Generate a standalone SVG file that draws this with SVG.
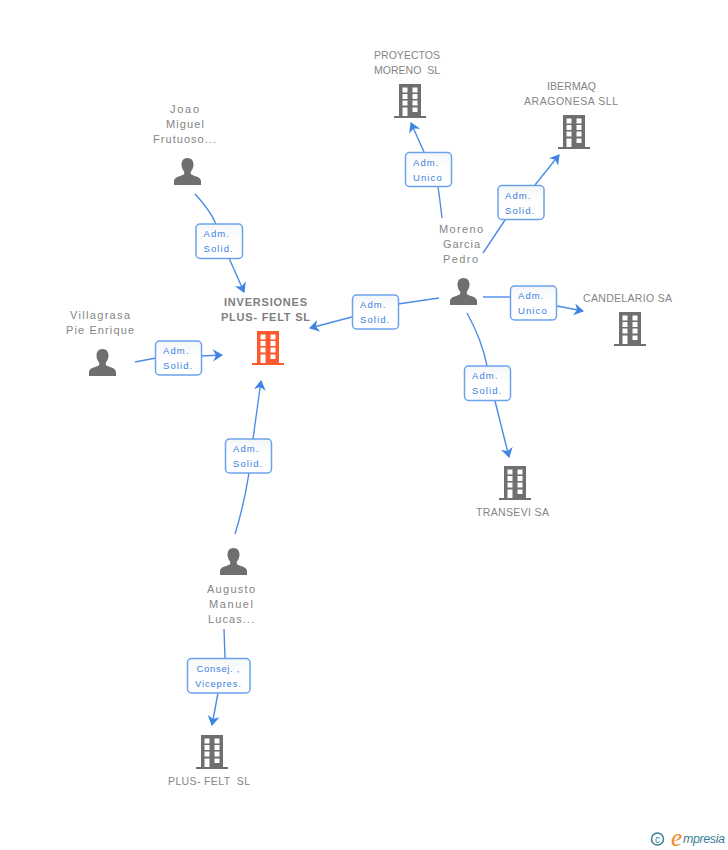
<svg xmlns="http://www.w3.org/2000/svg" width="728" height="850" viewBox="0 0 728 850">
<style>
text{white-space:pre}
.n{font-family:"Liberation Sans",Arial,sans-serif;font-size:10.5px;fill:#858585;text-anchor:start}
.m{font-family:"Liberation Sans",Arial,sans-serif;font-size:11px;fill:#858585;text-anchor:start}
.b{font-family:"Liberation Sans",Arial,sans-serif;font-size:11px;font-weight:bold;fill:#808080;text-anchor:start}
.l{font-family:"Liberation Sans",Arial,sans-serif;font-size:9.5px;fill:#3b7fe0;letter-spacing:1.1px}
.box{fill:url(#g);stroke:#6ba2ec;stroke-width:1.5}
.c{fill:none;stroke:#4d8ce6;stroke-width:1.4}
</style>
<defs>
<linearGradient id="g" x1="0" y1="0" x2="0" y2="1"><stop offset="0" stop-color="#f4f6f8"/><stop offset=".5" stop-color="#fff"/></linearGradient>
<marker id="a" markerUnits="userSpaceOnUse" markerWidth="14" markerHeight="14" refX="9" refY="6" orient="auto"><path d="M0 0L10 6L0 12L3 6Z" fill="#3f84e5"/></marker>
<path id="bd" fill-rule="evenodd" d="M-11 0H11V32H16V34H-16V32H-11ZM-7.500 3.500V8.500H-2.500V3.500ZM2.500 3.500V8.500H7.500V3.500ZM-7.500 10V15H-2.500V10ZM2.500 10V15H7.500V10ZM-7.500 16.500V21.500H-2.500V16.500ZM2.500 16.500V21.500H7.500V16.500ZM-7.500 23.500V32H-2.500V23.500ZM2.500 23.500V28H7.500V23.500Z"/>
<path id="pr" d="M0 0C3.800 0 6 2.800 6 6.500C6 9.500 4.800 12 3.300 13.700V16C5 18 13.500 18.500 13.500 23V27H-13.500V23C-13.500 18.500 -5 18 -3.300 16V13.700C-4.800 12 -6 9.500 -6 6.500C-6 2.800 -3.800 0 0 0Z" fill="#6f6f6f"/>
</defs>
<g id="connectors">
<path class="c" d="M195 194Q210 210 216 224"/>
<path class="c" marker-end="url(#a)" d="M229 258L244 292"/>
<path class="c" d="M135 362L156 358"/>
<path class="c" marker-end="url(#a)" d="M201 356L222 355"/>
<path class="c" d="M235 534Q244 505 249 473"/>
<path class="c" marker-end="url(#a)" d="M253 439L261 381"/>
<path class="c" d="M439 298L398 304"/>
<path class="c" marker-end="url(#a)" d="M352 317L310 328"/>
<path class="c" d="M442 218Q440 200 438 187"/>
<path class="c" marker-end="url(#a)" d="M424 152L411 123"/>
<path class="c" d="M483 253L505 220"/>
<path class="c" marker-end="url(#a)" d="M535 185L559 155"/>
<path class="c" d="M483 297L511 297"/>
<path class="c" marker-end="url(#a)" d="M557 306L583 311"/>
<path class="c" d="M467 313Q482 340 487 366"/>
<path class="c" marker-end="url(#a)" d="M495 401L509 457"/>
<path class="c" d="M224 629L225 658"/>
<path class="c" marker-end="url(#a)" d="M218 693L212 725"/>
</g>
<g id="node-main"><text class="b" x="224" y="306" textLength="83">INVERSIONES</text><text class="b" x="221" y="321" textLength="89">PLUS- FELT SL</text><use href="#bd" x="268" y="331" fill="#ff5a2e"/></g>
<g id="node-joao"><text class="m" x="170" y="113" textLength="29">Joao</text><text class="m" x="166" y="128" textLength="38">Miguel</text><text class="m" x="153" y="143" textLength="63">Frutuoso...</text><use href="#pr" x="187.500" y="158"/></g>
<g id="node-villagrasa"><text class="m" x="70" y="319" textLength="60">Villagrasa</text><text class="m" x="66" y="334" textLength="68">Pie Enrique</text><use href="#pr" x="102.500" y="349"/></g>
<g id="node-augusto"><use href="#pr" x="233.500" y="548"/><text class="m" x="207" y="593" textLength="48">Augusto</text><text class="m" x="209" y="608" textLength="44">Manuel</text><text class="m" x="208" y="623" textLength="46">Lucas...</text></g>
<g id="node-moreno"><text class="m" x="439" y="233" textLength="44">Moreno</text><text class="m" x="443" y="248" textLength="37">Garcia</text><text class="m" x="443" y="263" textLength="35">Pedro</text><use href="#pr" x="463.500" y="278"/></g>
<g id="node-proyectos"><text class="n" x="374" y="59" textLength="66">PROYECTOS</text><text class="n" x="374" y="74" textLength="66">MORENO  SL</text><use href="#bd" x="410" y="84" fill="#6f6f6f"/></g>
<g id="node-ibermaq"><text class="n" x="547" y="90" textLength="49">IBERMAQ</text><text class="n" x="524" y="105" textLength="94">ARAGONESA SLL</text><use href="#bd" x="574" y="115" fill="#6f6f6f"/></g>
<g id="node-candelario"><text class="n" x="583" y="302" textLength="89">CANDELARIO SA</text><use href="#bd" x="630" y="312" fill="#6f6f6f"/></g>
<g id="node-transevi"><use href="#bd" x="515" y="466" fill="#6f6f6f"/><text class="n" x="476" y="516" textLength="73">TRANSEVI SA</text></g>
<g id="node-plusfelt"><use href="#bd" x="212" y="735" fill="#6f6f6f"/><text class="n" x="168" y="785" textLength="82">PLUS- FELT  SL</text></g>
<g id="label-1"><rect class="box" x="196" y="224" width="46.500" height="34.500" rx="4"/><text class="l" x="203.500" y="237">Adm.</text><text class="l" x="203.500" y="252">Solid.</text></g>
<g id="label-2"><rect class="box" x="155.500" y="341" width="46" height="34" rx="4"/><text class="l" x="163" y="354">Adm.</text><text class="l" x="163" y="369">Solid.</text></g>
<g id="label-3"><rect class="box" x="225.500" y="439" width="46" height="34" rx="4"/><text class="l" x="233" y="452">Adm.</text><text class="l" x="233" y="467">Solid.</text></g>
<g id="label-4"><rect class="box" x="352.500" y="295" width="46" height="34" rx="4"/><text class="l" x="360" y="308">Adm.</text><text class="l" x="360" y="323">Solid.</text></g>
<g id="label-5"><rect class="box" x="405.500" y="152.500" width="46" height="34" rx="4"/><text class="l" x="413" y="166">Adm.</text><text class="l" x="413" y="181">Unico</text></g>
<g id="label-6"><rect class="box" x="498" y="185.500" width="46" height="34" rx="4"/><text class="l" x="505" y="199">Adm.</text><text class="l" x="505" y="214">Solid.</text></g>
<g id="label-7"><rect class="box" x="510.500" y="286" width="46" height="34" rx="4"/><text class="l" x="518" y="299">Adm.</text><text class="l" x="518" y="314">Unico</text></g>
<g id="label-8"><rect class="box" x="464.500" y="366" width="46" height="34.500" rx="4"/><text class="l" x="472" y="379">Adm.</text><text class="l" x="472" y="394">Solid.</text></g>
<g id="label-9"><rect class="box" x="187.500" y="658.500" width="62.500" height="34.500" rx="4"/><text class="l" x="196.500" y="672" textLength="44">Consej. ,</text><text class="l" x="195" y="687" textLength="47">Vicepres.</text></g>
<g id="logo"><circle cx="657.500" cy="839" r="6" fill="none" stroke="#3d7f96" stroke-width="1.500"/><text x="657.500" y="842.500" font-family="Liberation Sans,sans-serif" font-size="10" fill="#3d7f96" text-anchor="middle">c</text><text x="671" y="846" font-family="Liberation Serif,serif" font-style="italic" font-size="25" fill="#f08a24">e</text><text x="683" y="843" font-family="Liberation Sans,sans-serif" font-style="italic" font-size="12.500" fill="#3d7f96" textLength="42">mpresia</text></g>
</svg>
